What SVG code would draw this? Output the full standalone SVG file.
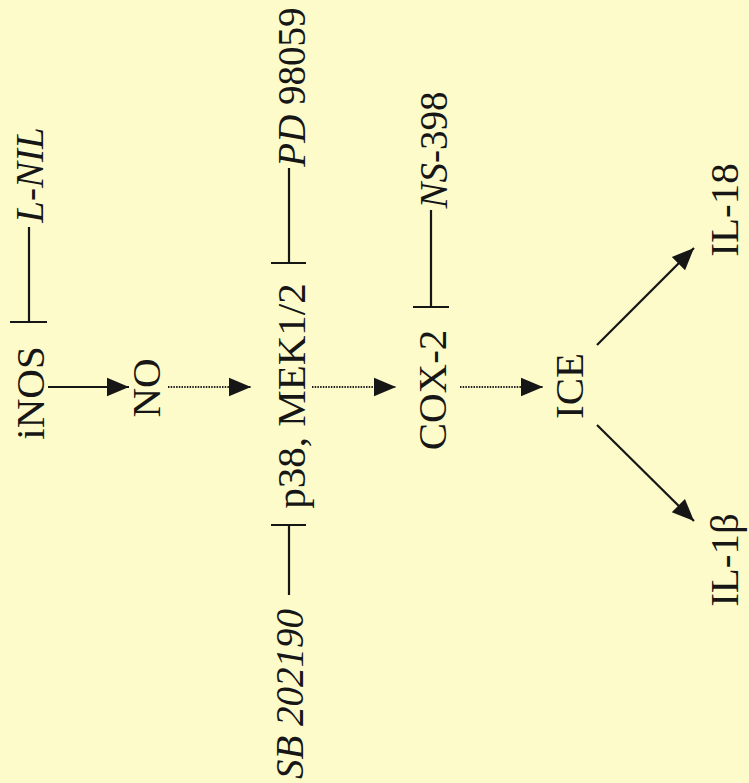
<svg xmlns="http://www.w3.org/2000/svg" width="749" height="783" viewBox="0 0 749 783">
<defs>
<style>
.t{font-family:"Liberation Serif","Times New Roman",serif;font-size:41px;fill:#161616;text-anchor:middle}
.s{font-size:39px}
.i{font-style:italic}
.ln{stroke:#161616;stroke-width:2.2;fill:none}
.dot{stroke:#222;stroke-width:2.2;fill:none;stroke-dasharray:1.5 1.2}
</style>
<marker id="ah" viewBox="0 0 20 20" refX="20" refY="10" markerWidth="22" markerHeight="22" markerUnits="userSpaceOnUse" orient="auto">
<path d="M0,1.5 L20,10 L0,18.5 Z" fill="#161616"/>
</marker>
</defs>
<rect width="749" height="783" fill="#fdfbc9"/>
<g id="connectors">
<line class="ln" x1="48" y1="387" x2="129" y2="387" marker-end="url(#ah)"/>
<line class="dot" x1="168" y1="387" x2="251" y2="387" marker-end="url(#ah)"/>
<line class="dot" x1="312" y1="387" x2="396" y2="387" marker-end="url(#ah)"/>
<line class="dot" x1="460" y1="387" x2="543" y2="387" marker-end="url(#ah)"/>
<line class="ln" x1="597" y1="345" x2="694" y2="248" marker-end="url(#ah)"/>
<line class="ln" x1="597" y1="425" x2="694" y2="521" marker-end="url(#ah)"/>
<line class="ln" x1="29" y1="227" x2="29" y2="322"/>
<line class="ln" x1="10" y1="322" x2="47" y2="322"/>
<line class="ln" x1="289" y1="168" x2="289" y2="263"/>
<line class="ln" x1="271" y1="263" x2="306" y2="263"/>
<line class="ln" x1="431" y1="210" x2="431" y2="307"/>
<line class="ln" x1="413" y1="307" x2="449" y2="307"/>
<line class="ln" x1="289" y1="525" x2="289" y2="595"/>
<line class="ln" x1="271" y1="525" x2="306" y2="525"/>
</g>
<g id="iNOS"><text class="t" transform="translate(44,393) rotate(-90)">iNOS</text></g>
<g id="NO"><text class="t" transform="translate(160,388) rotate(-90)">NO</text></g>
<g id="p38"><text class="t" transform="translate(305,396) rotate(-90)">p38, MEK1/2</text></g>
<g id="COX2"><text class="t" transform="translate(446,390) rotate(-90)">COX-2</text></g>
<g id="ICE"><text class="t" transform="translate(583,386) rotate(-90)">ICE</text></g>
<g id="IL18"><text class="t" transform="translate(738,210) rotate(-90)">IL-18</text></g>
<g id="IL1b"><text class="t" transform="translate(738,560) rotate(-90)">IL-1β</text></g>
<g id="LNIL"><text class="t s i" transform="translate(43,175) rotate(-90)">L-NIL</text></g>
<g id="PD98059"><text class="t s" transform="translate(305,87) rotate(-90)"><tspan class="i">PD</tspan> 98059</text></g>
<g id="NS398"><text class="t s" transform="translate(447,150) rotate(-90)"><tspan class="i">NS</tspan>-398</text></g>
<g id="SB202190"><text class="t s i" transform="translate(303,694) rotate(-90)">SB 202190</text></g>
</svg>
